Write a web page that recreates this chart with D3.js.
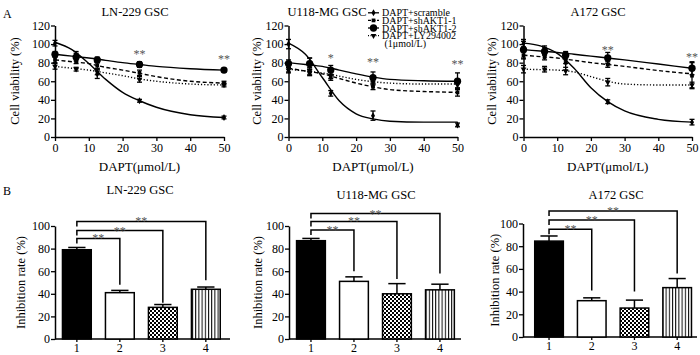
<!DOCTYPE html>
<html><head><meta charset="utf-8">
<script src="https://cdn.jsdelivr.net/npm/d3@7"></script>
<style>
body{margin:0;background:#fff;}
svg text{font-family:"Liberation Serif","Times New Roman",serif;fill:#000;}
</style></head>
<body><svg id="c" width="700" height="355"></svg>
<script>
// ---------- DATA ----------
const doses = [0, 6.25, 12.5, 25, 50];
const xTicks = [0, 10, 20, 30, 40, 50];
const yTicksA = [0, 20, 40, 60, 80, 100, 120];
const yTicksB = [0, 20, 40, 60, 80, 100];
const seriesNames = ["DAPT+scramble", "DAPT+shAKT1-1", "DAPT+shAKT1-2", "DAPT+LY294002"];
const legendExtra = "(1μmol/L)";
const cellLines = ["LN-229 GSC", "U118-MG GSC", "A172 GSC"];
const fitX = [0, 5, 10, 15, 20, 25, 30, 40, 50];

// LN-229 viability (order: scramble, shAKT1-1, shAKT1-2, LY294002)
const ln229Mean = [[101, 88, 68, 39, 21], [83, 82, 77, 69, 58], [89, 86, 83, 78, 72], [76, 73, 70, 62, 56]];
const ln229Err  = [[3, 4, 5, 1.5, 1.5], [3, 3, 3, 3, 2], [3, 4, 3, 3, 2], [3, 2, 3, 3, 2]];
const ln229Fit  = [[102, 94, 79, 62, 48, 39, 32, 24, 21], [83, 81, 79, 75, 72, 68.5, 65, 60, 58],
                   [89, 87, 85, 82.5, 80, 78, 76, 73.5, 72], [76, 74, 72, 69, 66, 62.5, 60, 57, 56]];
// U118-MG viability
const u118Mean = [[100, 80, 47, 23, 13], [74, 70, 64, 54, 48], [79, 79, 72, 64, 60], [72, 69, 66, 59, 56]];
const u118Err  = [[5, 5, 3, 5, 2], [4, 3, 3, 3, 4], [4, 6, 5, 6, 9], [3, 3, 3, 3, 3]];
const u118Fit  = [[101, 89, 64, 39, 25, 19.5, 17, 16, 16], [74, 71, 68, 63, 58, 54, 51, 49, 48],
                  [80, 78, 76, 72, 68, 64.5, 62, 60.5, 60], [73, 71, 69, 65.5, 62, 59.5, 58, 57, 57]];
// A172 viability
const a172Mean = [[101, 95, 80, 38, 16], [88, 86, 83, 78, 66], [94, 92, 88, 85, 74], [73, 73, 71, 59, 56]];
const a172Err  = [[4, 3, 8, 2, 3], [4, 3, 4, 3, 14], [9, 4, 4, 6, 7], [4, 3, 4, 4, 3]];
const a172Fit  = [[101, 98, 90, 74, 53, 38, 28, 19, 16], [88, 86.5, 85, 82.5, 80, 78, 76, 71.5, 68],
                  [94, 92.5, 91, 89, 87, 85, 83, 78.5, 74], [73, 72.5, 72, 70, 65, 60, 57, 56, 56]];
// significance marks on viability panels
const ln229StarX = [25, 50], ln229StarV = [92, 86], ln229StarT = ["**", "**"];
const u118StarX = [12.5, 25, 50], u118StarV = [87, 83, 81], u118StarT = ["*", "**", "**"];
const a172StarX = [25, 50], a172StarV = [96, 88], a172StarT = ["**", "**"];

// Inhibition rate (groups 1..4)
const groups = ["1", "2", "3", "4"];
const ln229Inhib = [79, 41, 28, 44], ln229InhibErr = [2, 2, 2.5, 2];
const u118Inhib = [87, 51, 40, 43.5], u118InhibErr = [2, 4, 9, 5];
const a172Inhib = [84.5, 32, 25.5, 43.5], a172InhibErr = [4.5, 2.5, 7, 8];
// comparison brackets (1 vs 2, 1 vs 3, 1 vs 4): height and right-leg end (value units)
const ln229BrTop = [89, 96, 104], ln229BrEnd = [48, 32, 52];
const u118BrTop = [96.5, 104, 111], u118BrEnd = [60, 53, 58];
const a172BrTop = [95, 103, 111], a172BrEnd = [41, 40, 56];
const brLabel = "**";

// ---------- DRAW ----------
const svg = d3.select("#c");
const defs = svg.append("defs");
const chk = defs.append("pattern").attr("id", "chk").attr("patternUnits", "userSpaceOnUse")
  .attr("width", 4).attr("height", 4);
chk.append("rect").attr("width", 4).attr("height", 4).attr("fill", "#fff");
chk.append("rect").attr("width", 2).attr("height", 2).attr("fill", "#000");
chk.append("rect").attr("x", 2).attr("y", 2).attr("width", 2).attr("height", 2).attr("fill", "#000");
const str = defs.append("pattern").attr("id", "str").attr("patternUnits", "userSpaceOnUse")
  .attr("width", 3.2).attr("height", 4);
str.append("rect").attr("width", 3.2).attr("height", 4).attr("fill", "#fff");
str.append("rect").attr("x", 0).attr("width", 1).attr("height", 4).attr("fill", "#000");

const dashes = [null, "4,2.5", null, "1.2,2"];
const symTypes = [d3.symbolDiamond, d3.symbolSquare, d3.symbolCircle, d3.symbolTriangle];
const symSizes = [14, 14, 42, 14];

function styleAxis(g) {
  g.selectAll("path.domain").attr("stroke", "#000").attr("stroke-width", 1.5);
  g.selectAll(".tick line").attr("stroke", "#000").attr("stroke-width", 1.3);
  g.selectAll(".tick text").attr("font-family", "Liberation Serif").attr("font-size", 12).attr("fill", "#000");
}

const panelsA = [
  {x0: 55, x1: 224, mean: ln229Mean, err: ln229Err, fit: ln229Fit, sx: ln229StarX, sv: ln229StarV, st: ln229StarT,
   title: cellLines[0], tx: 135, ylx: 15},
  {x0: 288.5, x1: 457.5, mean: u118Mean, err: u118Err, fit: u118Fit, sx: u118StarX, sv: u118StarV, st: u118StarT,
   title: cellLines[1], tx: 327, ylx: 257},
  {x0: 523.5, x1: 692, mean: a172Mean, err: a172Err, fit: a172Fit, sx: a172StarX, sv: a172StarV, st: a172StarT,
   title: cellLines[2], tx: 598, ylx: 492}
];

panelsA.forEach((p, pi) => {
  const x = d3.scaleLinear().domain([0, 50]).range([p.x0, p.x1]);
  const y = d3.scaleLinear().domain([0, 120]).range([137, 25.5]);
  const g = svg.append("g");
  const ya = g.append("g").attr("transform", `translate(${p.x0},0)`)
    .call(d3.axisLeft(y).tickValues(yTicksA).tickSize(4).tickSizeOuter(0).tickPadding(1));
  styleAxis(ya);
  const xa = g.append("g").attr("transform", `translate(0,137)`)
    .call(d3.axisBottom(x).tickValues(xTicks).tickSize(4).tickSizeOuter(0).tickPadding(2));
  styleAxis(xa);
  g.append("text").attr("x", p.tx).attr("y", 16).attr("text-anchor", "middle").attr("font-size", 12.5).text(p.title);
  g.append("text").attr("transform", `translate(${p.ylx},81) rotate(-90)`).attr("text-anchor", "middle")
    .attr("dy", "0.35em").attr("font-size", 12.5).text("Cell viability (%)");
  g.append("text").attr("x", (p.x0 + p.x1) / 2).attr("y", 171).attr("text-anchor", "middle")
    .attr("font-size", 13).text("DAPT(μmol/L)");
  const line = d3.line().x((d, i) => x(fitX[i])).y(d => y(d)).curve(d3.curveMonotoneX);
  p.fit.forEach((f, si) => {
    g.append("path").attr("d", line(f)).attr("fill", "none").attr("stroke", "#000")
      .attr("stroke-width", 1.4).attr("stroke-dasharray", dashes[si]);
  });
  p.mean.forEach((m, si) => {
    m.forEach((v, i) => {
      const e = p.err[si][i], cx = x(doses[i]);
      g.append("line").attr("x1", cx).attr("x2", cx).attr("y1", y(v - e)).attr("y2", y(v + e))
        .attr("stroke", "#000").attr("stroke-width", 1.3);
      [v - e, v + e].forEach(w => g.append("line").attr("x1", cx - 2.5).attr("x2", cx + 2.5)
        .attr("y1", y(w)).attr("y2", y(w)).attr("stroke", "#000").attr("stroke-width", 1.3));
      g.append("path").attr("d", d3.symbol().type(symTypes[si]).size(symSizes[si])())
        .attr("transform", `translate(${cx},${y(v)})` + (si === 3 ? " rotate(180)" : ""))
        .attr("fill", "#000");
    });
  });
  p.sx.forEach((sx, i) => {
    g.append("text").attr("x", x(sx)).attr("y", y(p.sv[i]) + 6).attr("text-anchor", "middle")
      .attr("font-size", 12).style("fill", "#555").text(p.st[i]);
  });
});

// legend
const lg = svg.append("g");
const legY = [12.8, 20.4, 28, 35.6];
seriesNames.forEach((n, i) => {
  lg.append("line").attr("x1", 368).attr("x2", 379).attr("y1", legY[i]).attr("y2", legY[i])
    .attr("stroke", "#000").attr("stroke-width", 1.3).attr("stroke-dasharray", dashes[i] ? (i === 1 ? "3,1.5" : "1,1.5") : null);
  lg.append("path").attr("d", d3.symbol().type(symTypes[i]).size(symSizes[i])())
    .attr("transform", `translate(373.5,${legY[i]})` + (i === 3 ? " rotate(180)" : "")).attr("fill", "#000");
  lg.append("text").attr("x", 382).attr("y", legY[i]).attr("dy", "0.35em").attr("font-size", 10).text(n);
});
lg.append("text").attr("x", 384.5).attr("y", 43.2).attr("dy", "0.35em").attr("font-size", 10).text(legendExtra);

svg.append("text").attr("x", 3).attr("y", 18).attr("font-size", 12).text("A");
svg.append("text").attr("x", 3).attr("y", 195).attr("font-size", 12).text("B");

// bar panels
const fills = ["#000", "#fff", "url(#chk)", "url(#str)"];
const panelsB = [
  {ax: 55, aEnd: 230, r0: 57.3, r1: 225.4, y0: 339, y100: 226, vals: ln229Inhib, errs: ln229InhibErr,
   top: ln229BrTop, end: ln229BrEnd, title: cellLines[0], tx: 140, ty: 194, ylx: 21},
  {ax: 289, aEnd: 461, r0: 291.4, r1: 459.5, y0: 339, y100: 226, vals: u118Inhib, errs: u118InhibErr,
   top: u118BrTop, end: u118BrEnd, title: cellLines[1], tx: 376, ty: 199, ylx: 258},
  {ax: 523, aEnd: 697, r0: 529.6, r1: 696.6, y0: 337, y100: 223.5, vals: a172Inhib, errs: a172InhibErr,
   top: a172BrTop, end: a172BrEnd, title: cellLines[2], tx: 616, ty: 199, ylx: 495}
];
panelsB.forEach(p => {
  const x = d3.scaleBand().domain(groups).range([p.r0, p.r1]).paddingInner(0.33).paddingOuter(0.12);
  const y = d3.scaleLinear().domain([0, 100]).range([p.y0, p.y100]);
  const g = svg.append("g");
  const ya = g.append("g").attr("transform", `translate(${p.ax},0)`)
    .call(d3.axisLeft(y).tickValues(yTicksB).tickSize(4).tickSizeOuter(0).tickPadding(1));
  styleAxis(ya);
  const xa = g.append("g").attr("transform", `translate(0,${p.y0})`)
    .call(d3.axisBottom(x).tickSize(3).tickSizeOuter(0).tickPadding(1));
  styleAxis(xa);
  xa.select("path.domain").attr("d", `M${p.ax},0H${p.aEnd}`);
  xa.selectAll(".tick text").attr("font-size", 12);
  g.append("text").attr("x", p.tx).attr("y", p.ty).attr("text-anchor", "middle").attr("font-size", 12.5).text(p.title);
  g.append("text").attr("transform", `translate(${p.ylx},${(p.y0 + p.y100) / 2}) rotate(-90)`).attr("text-anchor", "middle")
    .attr("dy", "0.35em").attr("font-size", 12.5).text("Inhibition rate (%)");
  const bw = x.bandwidth();
  groups.forEach((k, i) => {
    const cx = x(k) + bw / 2;
    const top = y(p.vals[i] + p.errs[i]);
    g.append("line").attr("x1", cx).attr("x2", cx).attr("y1", y(p.vals[i])).attr("y2", top)
      .attr("stroke", "#000").attr("stroke-width", 1.5);
    g.append("line").attr("x1", cx - bw * 0.3).attr("x2", cx + bw * 0.3).attr("y1", top).attr("y2", top)
      .attr("stroke", "#000").attr("stroke-width", 1.5);
    g.append("rect").attr("x", x(k)).attr("y", y(p.vals[i])).attr("width", bw)
      .attr("height", p.y0 - y(p.vals[i])).attr("fill", fills[i]).attr("stroke", "#000").attr("stroke-width", 1.5);
  });
  const c1 = x(groups[0]) + bw / 2;
  p.top.forEach((t, j) => {
    const cx = x(groups[j + 1]) + bw / 2, yt = y(t);
    g.append("path").attr("d", `M${c1},${yt + 5}V${yt}H${cx}V${y(p.end[j])}`).attr("fill", "none")
      .attr("stroke", "#000").attr("stroke-width", 1.5);
    g.append("text").attr("x", (c1 + cx) / 2).attr("y", yt + 4).attr("text-anchor", "middle")
      .attr("font-size", 12).style("fill", "#555").text(brLabel);
  });
});
</script></body></html>
